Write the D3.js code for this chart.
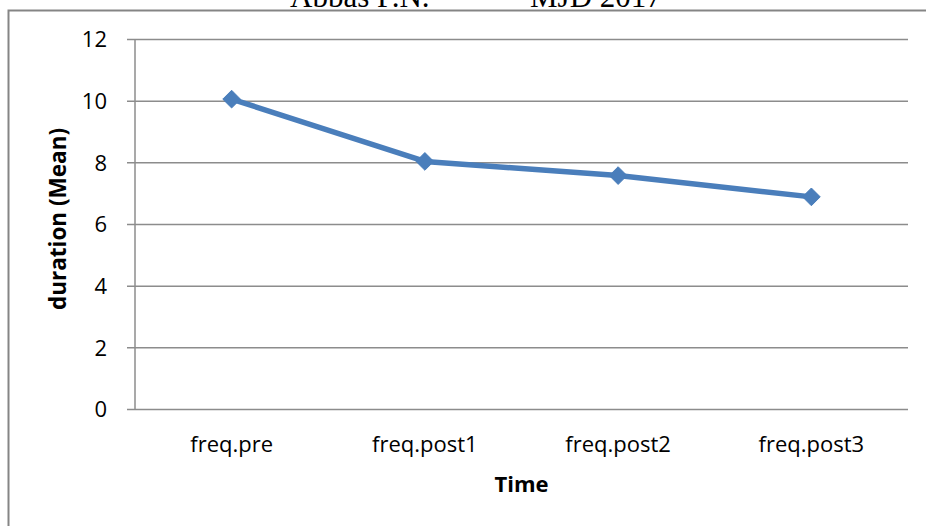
<!DOCTYPE html>
<html>
<head>
<meta charset="utf-8">
<script src="https://cdn.jsdelivr.net/npm/d3@7"></script>
<style>
  html, body { margin: 0; padding: 0; background: #fff; }
  svg { display: block; }
</style>
</head>
<body>
<svg id="chart" width="926" height="526"></svg>
<script>
// Mean duration at each measurement time
const categories = ["freq.pre", "freq.post1", "freq.post2", "freq.post3"];
const meanDuration = [10.05, 8.03, 7.57, 6.88];
const yTicks = [0, 2, 4, 6, 8, 10, 12];
const headerLeft = "Abbas F.N.";
const headerRight = "MJD 2017";

const svg = d3.select("#chart");
const W = 926, H = 526;
const margin = { left: 135, right: 18, top: 39, bottom: 117 };
const plotW = W - margin.left - margin.right;
const plotH = H - margin.top - margin.bottom;

const labelFont = "'Open Sans', 'Noto Sans', sans-serif";
const serifFont = "'Liberation Serif', 'Times New Roman', serif";

// Running header, clipped at the page top
svg.append("text").attr("x", 290).attr("y", 7)
  .attr("font-family", serifFont).attr("font-size", 31).attr("fill", "#000")
  .text(headerLeft);
svg.append("text").attr("x", 530).attr("y", 7)
  .attr("font-family", serifFont).attr("font-size", 31).attr("fill", "#000")
  .text(headerRight);

// Chart frame (top and left edges)
svg.append("path")
  .attr("d", `M${W},10.5 H8.5 V${H}`)
  .attr("fill", "none").attr("stroke", "#858585").attr("stroke-width", 2);

const g = svg.append("g").attr("transform", `translate(${margin.left},${margin.top})`);

const x = d3.scaleBand().domain(categories).range([0, plotW]);
const y = d3.scaleLinear().domain([0, 12]).range([plotH, 0]);

// Horizontal gridlines with short outward ticks
const yAxis = d3.axisLeft(y).tickValues(yTicks).tickSize(-plotW).tickPadding(28)
  .tickFormat(d3.format("d"));
const yg = g.append("g").call(yAxis);
yg.select(".domain").remove();
yg.selectAll(".tick line").attr("stroke", "#8c8c8c").attr("stroke-width", 1.5)
  .attr("x1", -8);
yg.selectAll(".tick text").attr("font-family", labelFont).attr("font-size", 22)
  .attr("fill", "#000").attr("dy", "0.36em");

// Vertical axis line
g.append("line").attr("x1", 0).attr("x2", 0).attr("y1", 0).attr("y2", plotH)
  .attr("stroke", "#8c8c8c").attr("stroke-width", 1.5);

// Category labels
const xAxis = d3.axisBottom(x).tickSize(0).tickPadding(0);
const xg = g.append("g").attr("transform", `translate(0,${plotH})`).call(xAxis);
xg.select(".domain").remove();
xg.selectAll(".tick text").attr("font-family", labelFont).attr("font-size", 22)
  .attr("fill", "#000").attr("dy", null).attr("y", 43);

// Axis titles
svg.append("text").attr("x", margin.left + plotW / 2).attr("y", 492)
  .attr("text-anchor", "middle").attr("font-family", labelFont)
  .attr("font-weight", "bold").attr("font-size", 22).attr("fill", "#000").text("Time");
svg.append("text")
  .attr("transform", `translate(66,219) rotate(-90)`)
  .attr("text-anchor", "middle").attr("font-family", labelFont)
  .attr("font-weight", "bold").attr("font-size", 22.5).attr("fill", "#000")
  .text("duration (Mean)");

// Series line and diamond markers
const data = categories.map((c, i) => ({ c, v: meanDuration[i] }));
const cx = d => x(d.c) + x.bandwidth() / 2;
const line = d3.line().x(cx).y(d => y(d.v));
g.append("path").datum(data).attr("d", line)
  .attr("fill", "none").attr("stroke", "#4a7ebb").attr("stroke-width", 5.5)
  .attr("stroke-linejoin", "round");

const diamond = d3.symbol().type(d3.symbolDiamond2).size(200);
g.selectAll(".marker").data(data).join("path").attr("class", "marker")
  .attr("transform", d => `translate(${cx(d)},${y(d.v)})`)
  .attr("d", diamond).attr("fill", "#4a7ebb").attr("stroke", "#4a7ebb")
  .attr("stroke-width", 1);
</script>
</body>
</html>
